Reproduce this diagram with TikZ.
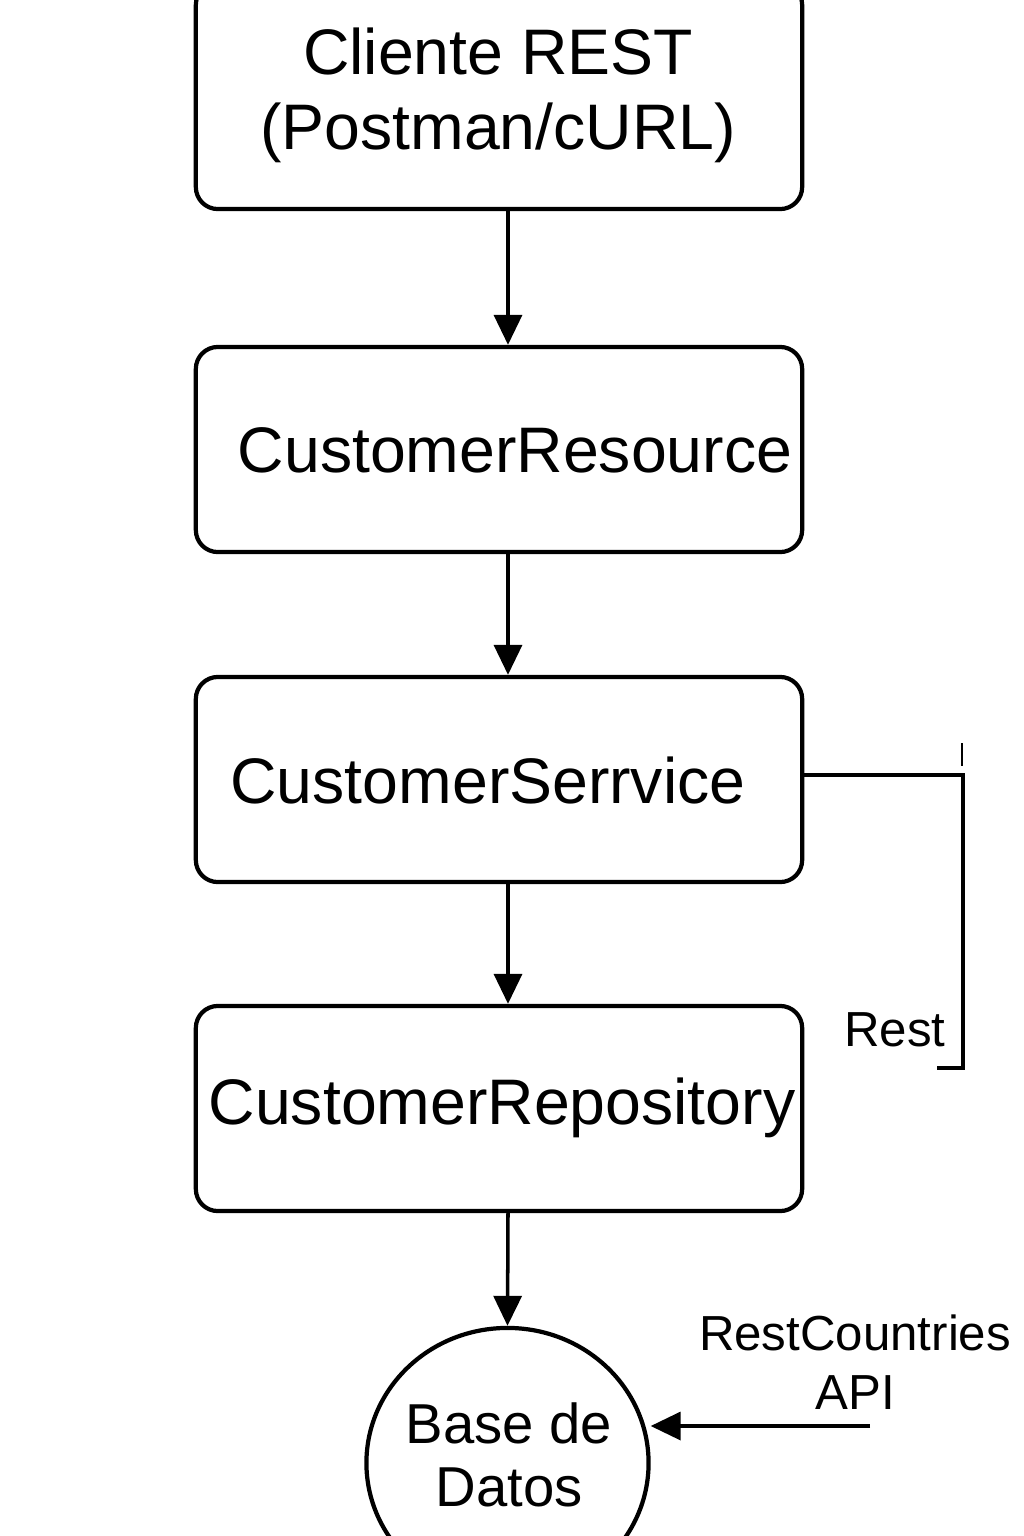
\documentclass[tikz,border=0pt]{standalone}
\usepackage{fontspec}
\setmainfont{Liberation Sans}
\usetikzlibrary{positioning,shapes.geometric}
\usetikzlibrary{arrows.meta}
\tikzset{>={Triangle[width=2.8mm,length=3mm]}}

\begin{document}
\begin{tikzpicture}[
    x=0.01cm, y=-0.01cm,
    layer/.style={
        rectangle,
        rounded corners=0.22cm,
        draw,
        line width=1.2pt,
        minimum width=6.06cm,
        minimum height=2.05cm,
        inner sep=0pt
    },
    layertext/.style={
        font=\fontsize{18.3pt}{21.3pt}\selectfont,
        align=center,
        inner sep=0pt
    },
    database/.style={
        ellipse,
        draw,
        line width=1.2pt,
        minimum width=2.82cm,
        minimum height=2.70cm,
        inner sep=0pt
    },
    dbtext/.style={
        font=\fontsize{16pt}{17.9pt}\selectfont,
        align=center,
        inner sep=0pt
    },
    sidetext/.style={
        font=\fontsize{14pt}{16.8pt}\selectfont,
        align=center,
        inner sep=0pt
    },
    flow/.style={->, line width=1pt}
]

\useasboundingbox (0,0) rectangle (1024,1536);
\clip (0,0) rectangle (1024,1536);

\node[layer, minimum height=2.26cm] (client) at (499,96) {};
\node[layertext] (clienttext) at (498,95) {Cliente REST\\(Postman/cURL)};

\node[layer] (resource) at (499,449.5) {};
\node[layertext] (resourcetext) at (515,450) {CustomerResource};

\node[layer] (service) at (499,779.5) {};
\node[layertext] (servicetext) at (488,780) {CustomerSerrvice};

\node[layer] (repository) at (499,1108.5) {};
\node[layertext] (repositorytext) at (502,1108) {CustomerRepository};

\node[database] (db) at (507.5,1463) {};
\node[dbtext] (dbtext) at (509,1455) {Base de\\Datos};

\draw[flow] ([xshift=0.09cm]client.south) -- ([xshift=0.09cm]resource.north);
\draw[flow] ([xshift=0.09cm]resource.south) -- ([xshift=0.09cm]service.north);
\draw[flow] ([xshift=0.09cm]service.south) -- ([xshift=0.09cm]repository.north);
\draw[flow] ([xshift=0.09cm]repository.south) -- (db.north);

% external call from the service
\coordinate (brackettop) at (963,775);
\coordinate (bracketend) at (937,1068);
\draw[line width=1.1pt] (service.east |- brackettop) -- (brackettop) -- (brackettop |- bracketend) -- (bracketend);
\coordinate (tickend) at (962,743);
\draw[line width=0.3pt] (tickend) -- ++(0,23);
\node[sidetext] (resttext) at (895,1030) {Rest};

\node[sidetext] (api) at (855,1362) {RestCountries\\API};
\coordinate (apiend) at (870,1426);
\draw[flow] (apiend) -- (apiend -| db.east);

\end{tikzpicture}
\end{document}
